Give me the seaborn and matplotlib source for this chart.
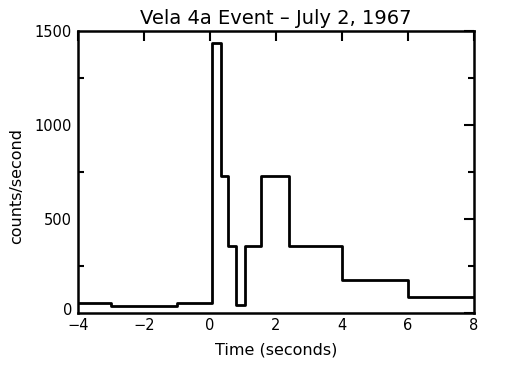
import matplotlib
matplotlib.use("Agg")
import matplotlib.pyplot as plt
import matplotlib.transforms as mtransforms
import seaborn as sns

# Step edges (seconds) and count rates for each bin
edges = [-4.0, -3.0, -1.0, 0.06, 0.34, 0.54, 0.78, 1.08, 1.55, 2.4, 4.0, 6.0, 8.0]
rates = [53, 37, 53, 1436, 729, 357, 41, 357, 729, 357, 176, 85]

title = "Vela 4a Event \u2013 July 2, 1967"
xticks = [-4, -2, 0, 2, 4, 6, 8]
yticks = [0, 500, 1000, 1500]

sns.set_style("white")
plt.rcParams['font.family'] = ['DejaVu Sans']
plt.rcParams['text.color'] = 'black'
plt.rcParams['axes.labelcolor'] = 'black'
plt.rcParams['xtick.color'] = 'black'
plt.rcParams['ytick.color'] = 'black'

fig = plt.figure(figsize=(5.23, 3.74), dpi=100)
ax = fig.add_axes([0.1486, 0.1639, 0.9063 - 0.1486, 0.9171 - 0.1639])

sns.lineplot(x=edges, y=rates + [rates[-1]], drawstyle='steps-post',
             color='black', linewidth=2, ax=ax)

ax.set_xlim(-4, 8)
ax.set_ylim(0, 1500)
ax.set_xticks(xticks)
ax.set_yticks(yticks)
ax.set_yticks([250, 750, 1250], minor=True)
ax.set_xticklabels([str(t).replace('-', '\u2212') for t in xticks])

ax.tick_params(axis='both', which='major', direction='in', length=7, width=1.5,
               top=True, right=True, labelsize=10.5, pad=4)
ax.tick_params(axis='y', which='minor', direction='in', length=4, width=1.5,
               right=True, left=True)
for s in ax.spines.values():
    s.set_linewidth(1.8)
    s.set_color('black')

# lift the "0" label a little, as in the original
lbl0 = ax.get_yticklabels()[0]
lbl0.set_transform(lbl0.get_transform() +
                   mtransforms.ScaledTranslation(0, 4 / 100, fig.dpi_scale_trans))

ax.set_xlabel("Time (seconds)", fontsize=11.5, labelpad=7)
ax.set_ylabel("counts/second", fontsize=11.5)
ax.yaxis.set_label_coords(-0.136, 0.45)
ax.set_title(title, fontsize=14, pad=5)

fig.savefig("out.png", dpi=100)
plt.close(fig)
